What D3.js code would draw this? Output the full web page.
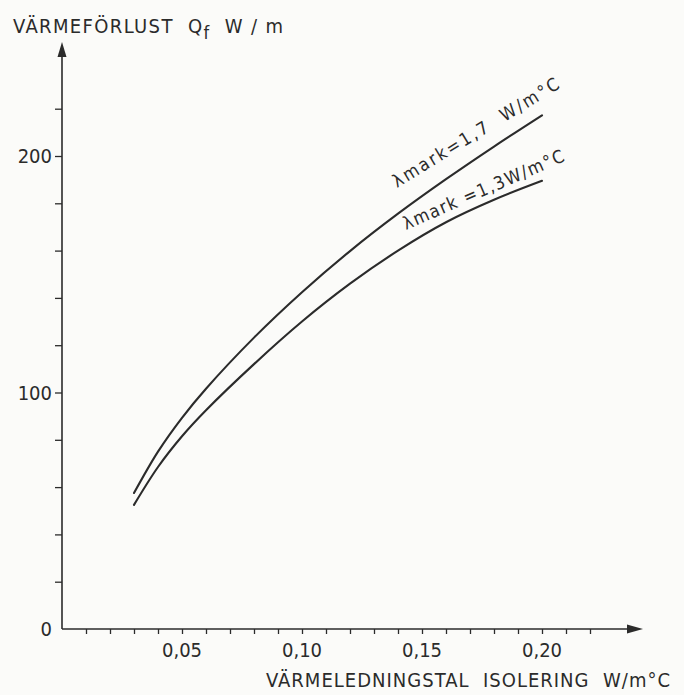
<!DOCTYPE html>
<html>
<head>
<meta charset="utf-8">
<script src="https://cdn.jsdelivr.net/npm/d3@7"></script>
<style>
  html, body { margin: 0; padding: 0; background: #fbfbf9; }
  svg { display: block; }
  text { font-family: "DejaVu Sans Condensed", "Liberation Sans Narrow", "DejaVu Sans", sans-serif; fill: #2b2b2b; white-space: pre; }
</style>
</head>
<body>
<svg id="chart" width="684" height="695"></svg>
<script>
// Thermal conductivity of the insulation (W/m°C)
const insulation = [0.03, 0.04, 0.05, 0.06, 0.08, 0.10, 0.12, 0.14, 0.16, 0.18, 0.20];
// Heat loss Qf (W/m) for two ground conductivities
const lossGround17 = [57.5, 75, 89.3, 101.6, 123.2, 142.4, 159.8, 175.6, 190.2, 204, 217.2];
const lossGround13 = [52.5, 68.5, 81.5, 92.5, 112, 130, 146, 160, 172, 181.5, 189.5];

const xMinorTicks = [0.01, 0.02, 0.03, 0.04, 0.05, 0.06, 0.07, 0.08, 0.09, 0.10, 0.11,
                     0.12, 0.13, 0.14, 0.15, 0.16, 0.17, 0.18, 0.19, 0.20, 0.21, 0.22];
const xLabelTicks = [0.05, 0.10, 0.15, 0.20];
const xLabelText = ["0,05", "0,10", "0,15", "0,20"];
const yMinorTicks = [20, 40, 60, 80, 100, 120, 140, 160, 180, 200, 220];
const yLabelTicks = [0, 100, 200];
const yLabelText = ["0", "100", "200"];

const svg = d3.select("#chart");
const ink = "#2b2b2b";

const x = d3.scaleLinear().domain([0, 0.25]).range([62, 662]);
const y = d3.scaleLinear().domain([0, 200]).range([629, 156]);

// axis lines with arrow heads
svg.append("line").attr("x1", x(0)).attr("x2", x(0)).attr("y1", y(0)).attr("y2", 54)
  .attr("stroke", ink).attr("stroke-width", 1.6);
svg.append("path").attr("d", `M${x(0)},42 L${x(0) - 4.5},57 L${x(0) + 4.5},57 Z`).attr("fill", ink);

svg.append("line").attr("x1", x(0)).attr("x2", 630).attr("y1", y(0)).attr("y2", y(0))
  .attr("stroke", ink).attr("stroke-width", 1.6);
svg.append("path").attr("d", `M643,${y(0)} L627,${y(0) - 4.5} L627,${y(0) + 4.5} Z`).attr("fill", ink);

// minor ticks
const gx = svg.append("g").attr("transform", `translate(0,${y(0)})`)
  .call(d3.axisBottom(x).tickValues(xMinorTicks).tickSize(5).tickFormat(""));
const gy = svg.append("g").attr("transform", `translate(${x(0)},0)`)
  .call(d3.axisLeft(y).tickValues(yMinorTicks).tickSize(7).tickFormat(""));
[gx, gy].forEach(g => {
  g.select(".domain").remove();
  g.selectAll(".tick line").attr("stroke", ink).attr("stroke-width", 1.3);
});

// tick labels
svg.append("g").selectAll("text").data(xLabelTicks).join("text")
  .attr("x", d => x(d)).attr("y", 657)
  .attr("text-anchor", "middle").attr("font-size", 20)
  .text((d, i) => xLabelText[i]);

svg.append("g").selectAll("text").data(yLabelTicks).join("text")
  .attr("x", 52).attr("y", d => y(d) + 7)
  .attr("text-anchor", "end").attr("font-size", 20)
  .text((d, i) => yLabelText[i]);

// axis titles
const yTitle = svg.append("text").attr("x", 13).attr("y", 33).attr("font-size", 20)
  .attr("textLength", 270).attr("lengthAdjust", "spacing");
yTitle.append("tspan").text("VÄRMEFÖRLUST  Q");
yTitle.append("tspan").attr("dy", 6).attr("font-size", 18).text("f");
yTitle.append("tspan").attr("dy", -6).text("  W / m");

svg.append("text").attr("x", 266).attr("y", 687).attr("font-size", 20)
  .attr("textLength", 404).attr("lengthAdjust", "spacing")
  .text("VÄRMELEDNINGSTAL  ISOLERING  W/m°C");

// curves
const line = d3.line().x(d => x(d[0])).y(d => y(d[1])).curve(d3.curveCatmullRom.alpha(0.5));
[lossGround17, lossGround13].forEach(series => {
  svg.append("path")
    .datum(insulation.map((v, i) => [v, series[i]]))
    .attr("d", line)
    .attr("fill", "none").attr("stroke", ink).attr("stroke-width", 2.1)
    .attr("stroke-linecap", "round");
});

// curve labels
svg.append("text").attr("transform", "translate(397,188) rotate(-31.5)")
  .attr("font-size", 18).attr("textLength", 192).attr("lengthAdjust", "spacing")
  .text("λmark=1,7  W/m°C");
svg.append("text").attr("transform", "translate(406,230) rotate(-23.5)")
  .attr("font-size", 18).attr("textLength", 174).attr("lengthAdjust", "spacing")
  .text("λmark =1,3W/m°C");
</script>
</body>
</html>
